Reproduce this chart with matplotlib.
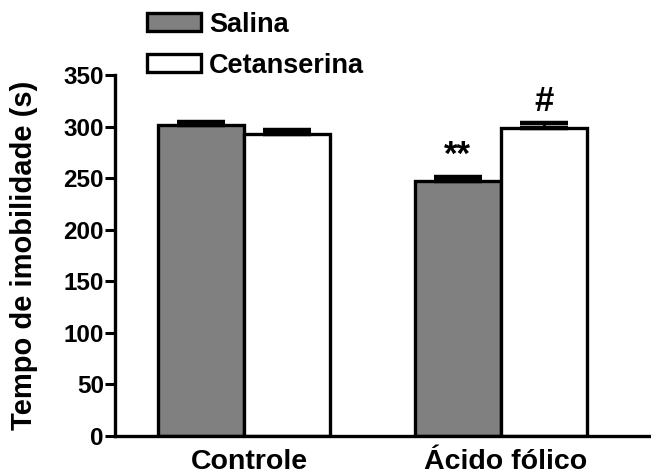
import numpy as np
import matplotlib.pyplot as plt

# tempo de imobilidade (s), média e EPM por grupo
grupos = ['Controle', 'Ácido fólico']
salina = [302, 247]
salina_epm = [2, 4]
cetanserina = [293, 299]
cetanserina_epm = [3.5, 4]
marcas = [['', '**'], ['', '#']]

plt.rcParams['font.family'] = ['Liberation Sans', 'DejaVu Sans']
plt.rcParams['font.weight'] = 'bold'

fig = plt.figure(figsize=(6.51, 4.75), dpi=100)
ax = fig.add_axes([0.1767, 0.0821, 0.8233, 0.76])

x = np.arange(len(grupos))
w = 0.335

b1 = ax.bar(x - w/2, salina, w, color='#808080', edgecolor='black', linewidth=2.4,
            label='Salina', zorder=2)
b2 = ax.bar(x + w/2, cetanserina, w, color='white', edgecolor='black', linewidth=2.4,
            label='Cetanserina', zorder=2)

for xs, ys, es in [(x - w/2, salina, salina_epm), (x + w/2, cetanserina, cetanserina_epm)]:
    ax.errorbar(xs, ys, yerr=[np.zeros(len(es)), es], fmt='none', ecolor='black',
                elinewidth=2, capsize=17, capthick=3.2, zorder=3)

# asteriscos e cerquilha sobre as barras
for xs, ys, es, m in [(x - w/2, salina, salina_epm, marcas[0]),
                      (x + w/2, cetanserina, cetanserina_epm, marcas[1])]:
    for xi, yi, ei, mi in zip(xs, ys, es, m):
        if mi:
            ax.text(xi, yi + ei + 5, mi, ha='center', va='bottom', fontsize=25,
                    fontweight='bold')

ax.set_xlim(-0.502, 1.584)
ax.set_ylim(0, 350)
ax.set_yticks(np.arange(0, 351, 50))
ax.set_xticks(x + 0.02)
ax.set_xticklabels(grupos, fontsize=20.5, fontweight='bold')
ax.tick_params(axis='x', length=0, pad=9)
ax.tick_params(axis='y', length=7, width=2.2, labelsize=17.5, pad=1)
ax.set_ylabel('Tempo de imobilidade (s)', fontsize=21, fontweight='bold', labelpad=18)

for s in ['top', 'right']:
    ax.spines[s].set_visible(False)
for s in ['left', 'bottom']:
    ax.spines[s].set_linewidth(2.4)

fig.legend(handles=[b1, b2], loc='upper left', bbox_to_anchor=(0.209, 0.998),
           frameon=False, fontsize=19.5, handlelength=2.0, handleheight=0.67,
           handletextpad=0.3, labelspacing=0.55, borderaxespad=0)

fig.savefig('out.png', dpi=100)
